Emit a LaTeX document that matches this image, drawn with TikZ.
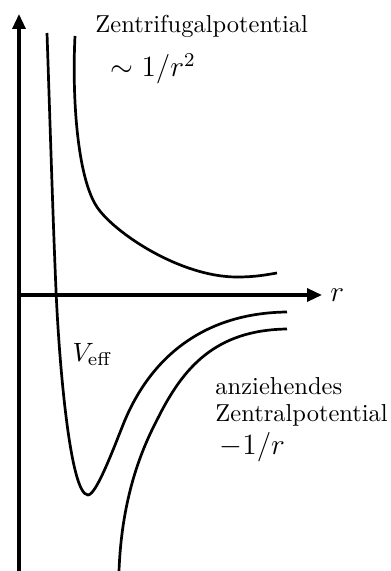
\documentclass[tikz,border=0pt]{standalone}
\usetikzlibrary{arrows.meta}
\begin{document}
\begin{tikzpicture}[x=1pt,y=1pt,
  axis/.style={line width=3.3pt,-{Triangle[length=15pt,width=13pt]}},
  curve/.style={line width=2.7pt},
  lbl/.style={inner sep=0pt,scale=2.45,transform shape}]
\useasboundingbox (0,0) rectangle (391,571);
% axes
\coordinate (o) at (19,276);
\coordinate (ybot) at (19,0);
\coordinate (ytop) at (19,557);
\coordinate (xend) at (322,276);
\draw[axis] (ybot) -- (ytop);
\draw[axis] (o) -- (xend);
% effective potential
\coordinate (v0) at (47,538);
\coordinate (v1) at (56,281);
\coordinate (v2) at (88,76);
\coordinate (v3) at (125,151);
\coordinate (v4) at (287,259);
\draw[curve] (v0) .. controls (50,450) and (53,350) .. (v1)
  .. controls (59,210) and (70,76) .. (v2)
  .. controls (97,76) and (117,132) .. (v3)
  .. controls (150,210) and (200,258) .. (v4);
% centrifugal
\coordinate (c0) at (75,535);
\coordinate (c1) at (97,364);
\coordinate (c2) at (237,294);
\coordinate (c3) at (277,298);
\draw[curve] (c0) .. controls (72,475) and (77,394) .. (c1)
  .. controls (114,338.5) and (180,294) .. (c2)
  .. controls (255,294) and (265,296) .. (c3);
% attractive
\coordinate (a0) at (119,0);
\coordinate (a1) at (158,153);
\coordinate (a2) at (287,242);
\draw[curve] (a0) .. controls (122,80) and (145,128) .. (a1)
  .. controls (183,203) and (215,241) .. (a2);
% labels
\node[lbl,anchor=base west] (zf) at (95,538) {Zentrifugalpotential};
\node[lbl,anchor=base west,font=\large] (zfe) at (110,494) {$\sim 1/r^2$};
\node[lbl,anchor=base west,font=\large] (r) at (330,269) {$r$};
\node[lbl,anchor=base west,scale=1.08] (veff) at (72,209) {$V_{\mathrm{eff}}$};
\node[lbl,anchor=base west] (az1) at (215,176) {anziehendes};
\node[lbl,anchor=base west] (az2) at (215,149) {Zentralpotential};
\node[lbl,anchor=base west,font=\large] (az3) at (219,116) {$-1/r$};
\end{tikzpicture}
\end{document}
